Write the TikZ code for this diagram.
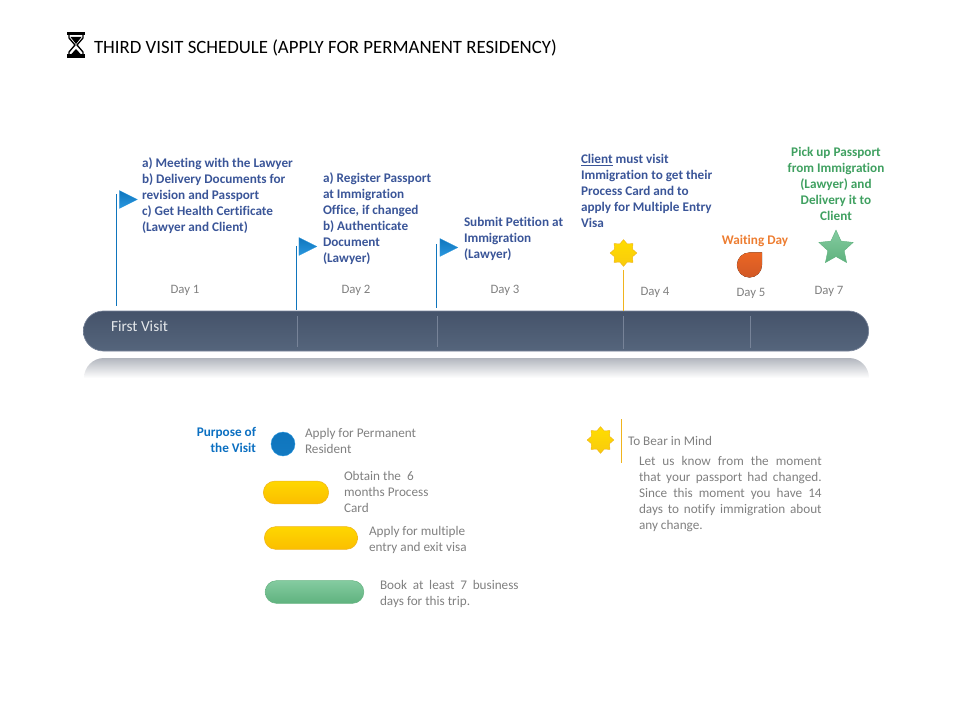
\documentclass[tikz,border=0pt]{standalone}
\usepackage{fontspec}
\setmainfont[Ligatures=NoCommon]{Carlito}
\usetikzlibrary{shapes.geometric}
\definecolor{navy}{HTML}{55657C}
\definecolor{darknavy}{HTML}{45536A}
\definecolor{rim}{HTML}{778398}
\definecolor{mist}{HTML}{B2B6BE}
\definecolor{skyblue}{HTML}{0F75BD}
\definecolor{lightsky}{HTML}{2A98DF}
\definecolor{inkblue}{HTML}{3A5598}
\definecolor{purposeblue}{HTML}{0B6FC1}
\definecolor{softgray}{HTML}{808080}
\definecolor{amber}{HTML}{F0B41E}
\definecolor{gold}{HTML}{FFDD00}
\definecolor{pillgold}{HTML}{FBBE00}
\definecolor{leaf}{HTML}{3FA060}
\definecolor{lightleaf}{HTML}{84CBA0}
\definecolor{midleaf}{HTML}{5FB27E}
\definecolor{tangerine}{HTML}{ED7D31}
\definecolor{drop}{HTML}{E8622A}
\begin{document}
\begin{tikzpicture}[
  x=0.75pt, y=-0.75pt,
  every node/.style={inner sep=0pt, outer sep=0pt},
  note/.style={anchor=north west, align=left, font=\fontsize{9.9}{12}\selectfont\bfseries, text=inkblue},
  plain/.style={anchor=north west, align=left, font=\fontsize{9.9}{12}\selectfont, text=softgray},
  day/.style={font=\fontsize{9.6}{12}\selectfont, text=softgray},
  flag/.style={isosceles triangle, isosceles triangle apex angle=90, isosceles triangle stretches, minimum width=13.5pt, minimum height=13.5pt, shape border rotate=0, top color=skyblue, bottom color=lightsky, draw=lightsky, line width=0.2pt},
  pole/.style={draw=skyblue, line width=0.75pt},
  amberpole/.style={draw=amber, line width=0.75pt},
  tick/.style={draw=rim, line width=0.6pt},
  sun/.style={star, star points=8, star point ratio=1.36, minimum size=20pt, top color=gold, bottom color=gold!55!amber, draw=amber, line width=0.3pt},
  pill/.style={rectangle, rounded corners=8.5pt, minimum height=17pt, line width=0.4pt},
  yellowpill/.style={pill, draw=amber, top color=gold!80!pillgold, bottom color=pillgold},
  greenpill/.style={pill, draw=leaf!80, top color=lightleaf, bottom color=midleaf}
]
\useasboundingbox (0,0) rectangle (960,720);
% heading
\fill (67,32) rectangle (85,35.5);
\fill (67,54.5) rectangle (85,58);
\draw[line width=1pt] (69,35) -- (69,38) -- (75,45) -- (69,52) -- (69,55);
\draw[line width=1pt] (83,35) -- (83,38) -- (77,45) -- (83,52) -- (83,55);
\fill (70.5,37) -- (81.5,37) -- (76,44) -- cycle;
\fill (71,54.5) -- (81,54.5) -- (76,49) -- cycle;
\node[anchor=west, font=\fontsize{14.1}{16}\selectfont] (title) at (94,48) {THIRD VISIT SCHEDULE (APPLY FOR PERMANENT RESIDENCY)};
% timeline bar
\shade[top color=mist, bottom color=white] (84,378) [rounded corners=15pt] -- (84,358) -- (869,358) [sharp corners] -- (869,378) -- cycle;
\node[rectangle, rounded corners=15pt, minimum width=589pt, minimum height=30pt, top color=darknavy, bottom color=navy, draw=rim, line width=0.5pt] (bar) at (476,331) {};
\node[anchor=west, font=\fontsize{11.5}{12}\selectfont, text=white!85!navy] (visit) at (111,326) {First Visit};
\coordinate (tickAtop) at (297,316);
\coordinate (tickAbot) at (297,347);
\coordinate (tickBtop) at (437,316);
\coordinate (tickBbot) at (437,347);
\coordinate (tickCtop) at (623,316);
\coordinate (tickCbot) at (623,349);
\coordinate (tickDtop) at (750.5,316);
\coordinate (tickDbot) at (750.5,348);
\draw[tick] (tickAtop) -- (tickAbot);
\draw[tick] (tickBtop) -- (tickBbot);
\draw[tick] (tickCtop) -- (tickCbot);
\draw[tick] (tickDtop) -- (tickDbot);
% flags
\coordinate (poleAtop) at (116,194);
\coordinate (poleAbot) at (116,306);
\coordinate (poleBtop) at (296,246);
\coordinate (poleBbot) at (296,310);
\coordinate (poleCtop) at (436.5,244);
\coordinate (poleCbot) at (436.5,308);
\coordinate (poleDtop) at (623.5,270);
\coordinate (poleDbot) at (623.5,311);
\draw[pole] (poleAtop) -- (poleAbot);
\draw[pole] (poleBtop) -- (poleBbot);
\draw[pole] (poleCtop) -- (poleCbot);
\node[flag] (flagA) at (125,199.5) {};
\node[flag] (flagB) at (304.5,246.5) {};
\node[flag] (flagC) at (445.5,247.5) {};
\node[sun] (sunA) at (623.5,253) {};
\draw[amberpole] (poleDtop) -- (poleDbot);
\fill[top color=drop!85!orange, bottom color=drop!90!black] (762,252.5) -- (762,265) arc[start angle=0, end angle=-270, radius=9.4pt] -- cycle;
\node[star, star points=5, star point ratio=2.1, minimum size=27pt, top color=lightleaf, bottom color=midleaf, draw=midleaf, line width=0.3pt] (starA) at (836,248) {};
% day texts
\node[note] (textA) at (142,158) {a) Meeting with the Lawyer\\b) Delivery Documents for\\revision and Passport\\c) Get Health Certificate\\(Lawyer and Client)};
\node[note] (textB) at (323,173) {a) Register Passport\\at Immigration\\Office, if changed\\b) Authenticate\\Document\\(Lawyer)};
\node[note] (textC) at (464,217.5) {Submit Petition at\\Immigration\\(Lawyer)};
\node[note] (textD) at (581,154.5) {\underline{Client} must visit\\Immigration to get their\\Process Card and to\\apply for Multiple Entry\\Visa};
\node[note, anchor=center, text=tangerine] (textE) at (755,240.5) {Waiting Day};
\node[note, anchor=north, align=center, text=leaf] (textF) at (836,147.5) {Pick up Passport\\from Immigration\\(Lawyer) and\\Delivery it to\\Client};
\node[day] (dayA) at (185,290) {Day 1};
\node[day] (dayB) at (356,290) {Day 2};
\node[day] (dayC) at (505,290) {Day 3};
\node[day] (dayD) at (655,292) {Day 4};
\node[day] (dayE) at (751,293) {Day 5};
\node[day] (dayF) at (829,291) {Day 7};
% purpose legend
\node[note, anchor=north east, align=right, text=purposeblue] (purpose) at (256,427.5) {Purpose of\\the Visit};
\node[circle, minimum size=18pt, top color=skyblue, bottom color=skyblue!85!lightsky, draw=lightsky, line width=0.3pt] (dotA) at (283,444) {};
\node[yellowpill, minimum width=49pt] (pillA) at (296,492.5) {};
\node[yellowpill, minimum width=70pt] (pillB) at (311,538) {};
\node[greenpill, minimum width=74pt] (pillC) at (314.5,592) {};
\node[plain] (labelA) at (305,428) {Apply for Permanent\\Resident};
\node[plain] (labelB) at (344,471) {Obtain the\ \ 6\\months Process\\Card};
\node[plain] (labelC) at (369,526) {Apply for multiple\\entry and exit visa};
\node[plain, align=justify, text width=104pt] (labelD) at (380,580) {Book at least 7 business\linebreak days for this trip.};
% reminder
\node[sun] (sunB) at (600.5,440) {};
\coordinate (ruleTop) at (621.5,419);
\coordinate (ruleBot) at (621.5,463);
\draw[amberpole] (ruleTop) -- (ruleBot);
\node[plain, anchor=west] (bear) at (628,441) {To Bear in Mind};
\node[plain, align=justify, text width=137pt] (bearText) at (639,456) {Let us know from the moment\linebreak that your passport had changed.\linebreak Since this moment you have 14\linebreak days to notify immigration about\linebreak any change.};
\end{tikzpicture}
\end{document}
